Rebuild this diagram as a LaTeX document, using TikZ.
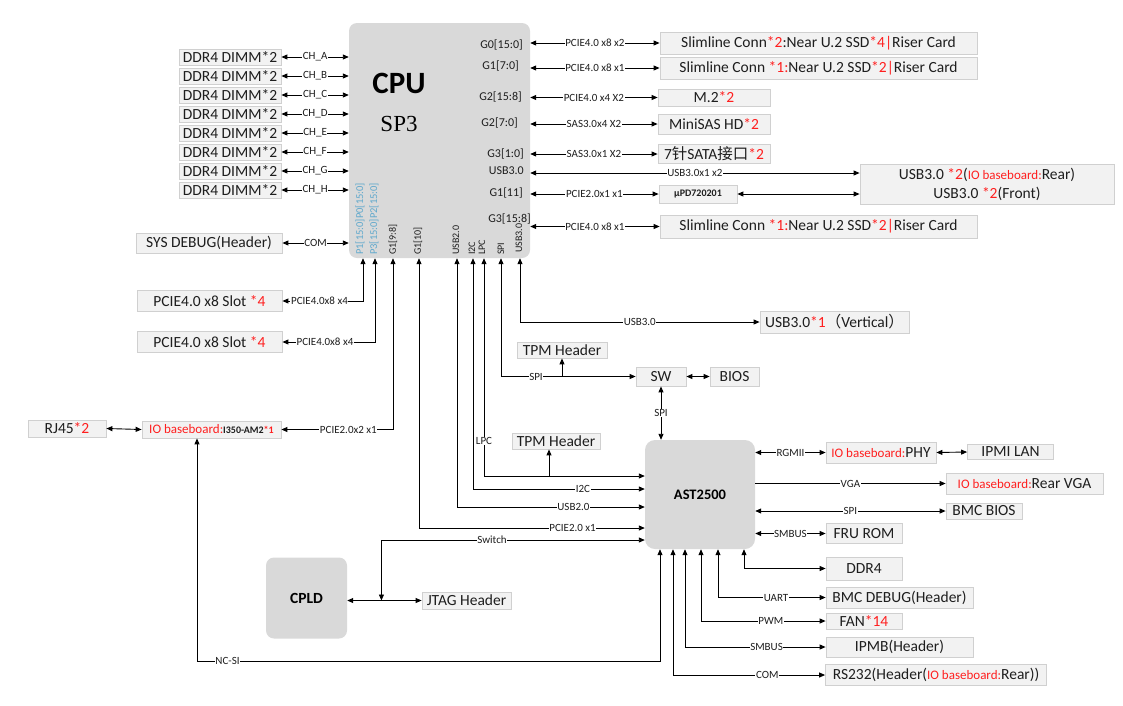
\documentclass[tikz,border=0pt]{standalone}
\usepackage{fontspec}
\setmainfont{Carlito}
\newfontfamily\cjkfont{Noto Sans CJK SC}
\newfontfamily\spfont{Liberation Serif}
\usetikzlibrary{arrows.meta,calc}
\definecolor{boxfill}{HTML}{F2F2F2}
\definecolor{boxline}{HTML}{D0D0D0}
\definecolor{chipfill}{HTML}{D9D9D9}
\definecolor{myred}{HTML}{FF1F1F}
\definecolor{myblue}{HTML}{5FA8CC}
\definecolor{txt}{HTML}{1E1E1E}
\newcommand{\rr}[1]{\textcolor{myred}{#1}}
\newcommand{\iobt}{{\fontsize{13}{14}\selectfont\textcolor{myred}{IO baseboard:}}}
\begin{document}
\begin{tikzpicture}[x=1pt,y=-1pt, >={Triangle[length=6pt,width=5pt]},
 box/.style={draw=boxline, fill=boxfill, line width=0.8pt, inner sep=0pt, text=txt, font=\fontsize{15.5}{19}\selectfont},
 chip/.style={fill=chipfill, rounded corners=8pt, inner sep=0pt},
 wire/.style={line width=0.9pt, draw=black},
 lbl/.style={fill=white, inner sep=0.6pt, text=txt, font=\fontsize{11}{11}\selectfont},
 port/.style={inner sep=0pt, anchor=east, text=txt, font=\fontsize{12}{12}\selectfont},
 bport/.style={inner sep=0pt, anchor=west, rotate=90, text=txt, font=\fontsize{10}{11}\selectfont},
]
\useasboundingbox (0,0) rectangle (1123,705);

% ---------- chips ----------
\node[chip, minimum width=181pt, minimum height=235pt] (cpu) at (439.5,140.5) {};
\node[font=\bfseries\fontsize{31}{31}\selectfont, text=black] (cputxt) at (399,83) {CPU};
\node[font=\spfont\fontsize{23}{23}\selectfont, text=black] (sptxt) at (399,124) {SP3};
\node[chip, rounded corners=10pt, minimum width=110pt, minimum height=109pt, font=\bfseries\fontsize{14.5}{15}\selectfont] (ast) at (700,494.5) {AST2500};
\node[chip, minimum width=81pt, minimum height=81pt, font=\bfseries\fontsize{15.5}{16}\selectfont] (cpld) at (306.5,598) {CPLD};

% ---------- CPU port labels ----------
\node[port] (pG0) at (523,45) {G0[15:0]};
\node[port] (pG1a) at (519,66) {G1[7:0]};
\node[port] (pG2a) at (522,97) {G2[15:8]};
\node[port] (pG2b) at (518,123) {G2[7:0]};
\node[port] (pG3a) at (524,154) {G3[1:0]};
\node[port] (pU3) at (524,171) {USB3.0};
\node[port] (pG11) at (523,193) {G1[11]};
\node[port] (pG3b) at (531,219) {G3[15:8]};

\node[bport, text=myblue, font=\fontsize{10.5}{11}\selectfont] (lP1) at (360,255) {P1[15:0]P0[15:0]};
\node[bport, text=myblue, font=\fontsize{10.5}{11}\selectfont] (lP3) at (374,255) {P3[15:0]P2[15:0]};
\node[bport] (lG98) at (393,255) {G1[9:8]};
\node[bport] (lG10) at (418,255) {G1[10]};
\node[bport] (lU2) at (456,255) {USB2.0};
\node[bport] (lI2C) at (472,255) {I2C};
\node[bport] (lLPC) at (482,255) {LPC};
\node[bport] (lSPI) at (501,255) {SPI};
\node[bport] (lU3) at (519,253) {USB3.0};

\coordinate (bP1) at (cpu.south -| 363,0);
\coordinate (bP3) at (cpu.south -| 375,0);
\coordinate (bG98) at (cpu.south -| 393,0);
\coordinate (bG10) at (cpu.south -| 419,0);
\coordinate (bU2) at (cpu.south -| 457,0);
\coordinate (bI2C) at (cpu.south -| 473,0);
\coordinate (bLPC) at (cpu.south -| 484,0);
\coordinate (bSPI) at (cpu.south -| 501,0);
\coordinate (bU3) at (cpu.south -| 520,0);

% ---------- DDR ----------
\foreach \n/\yy in {A/57,B/76,C/95,D/114,E/133,F/152,G/171,H/190}{
  \node[box, minimum width=102pt, minimum height=16pt] (ddr\n) at (230,\yy) {DDR4 DIMM*2};
  \draw[wire,<->] (ddr\n.east) -- (cpu.west |- ddr\n.east) node[lbl,midway]{CH\_\n};
}

% ---------- left boxes ----------
\node[box, minimum width=146pt, minimum height=20pt] (sysdbg) at (209,243) {SYS DEBUG(Header)};
\node[box, minimum width=145pt, minimum height=21pt] (slot1) at (209.5,301) {PCIE4.0 x8 Slot \rr{*4}};
\node[box, minimum width=145pt, minimum height=21pt] (slot2) at (209.5,342) {PCIE4.0 x8 Slot \rr{*4}};
\node[box, minimum width=139pt, minimum height=17pt] (iob) at (211.5,429.5) {\iobt{\bfseries\fontsize{10}{11}\selectfont I350-AM2\rr{*1}}};
\node[box, minimum width=78pt, minimum height=17pt] (rj45) at (67,428.5) {RJ45\rr{*2}};

% ---------- right top boxes ----------
\node[box, minimum width=317pt, minimum height=22pt] (sl1) at (818.5,43) {Slimline Conn\rr{*2}:Near U.2 SSD\rr{*4|}Riser Card};
\node[box, minimum width=317pt, minimum height=22pt] (sl2) at (818.5,68) {Slimline Conn \rr{*1:}Near U.2 SSD\rr{*2|}Riser Card};
\node[box, minimum width=112pt, minimum height=17pt] (m2) at (714,97.5) {M.2\rr{*2}};
\node[box, minimum width=112pt, minimum height=20pt] (minisas) at (714,124) {MiniSAS HD\rr{*2}};
\node[box, minimum width=112pt, minimum height=19pt] (sata) at (714,154) {7{\cjkfont 针}SATA{\cjkfont 接口}\rr{*2}};
\node[box, minimum width=254pt, minimum height=40pt, align=center] (usbfr) at (987,184) {USB3.0 \rr{*2}(\iobt Rear)\\USB3.0 \rr{*2}(Front)};
\node[box, minimum width=78pt, minimum height=18pt, font=\bfseries\fontsize{10}{11}\selectfont] (upd) at (698,194) {µPD720201};
\node[box, minimum width=317pt, minimum height=23pt] (sl3) at (818.5,226.5) {Slimline Conn \rr{*1:}Near U.2 SSD\rr{*2|}Riser Card};

% ---------- middle boxes ----------
\node[box, minimum width=149pt, minimum height=22pt] (usbv) at (834.5,322) {USB3.0\rr{*1}{\cjkfont （}Vertical{\cjkfont ）}};
\node[box, minimum width=90pt, minimum height=16pt] (tpm1) at (562,350) {TPM Header};
\node[box, minimum width=50pt, minimum height=19pt] (sw) at (661,376.5) {SW};
\node[box, minimum width=49pt, minimum height=19pt] (bios) at (734.5,376.5) {BIOS};
\node[box, minimum width=88pt, minimum height=16pt] (tpm2) at (556,441) {TPM Header};
\node[box, minimum width=89pt, minimum height=17pt] (jtag) at (466.5,600.5) {JTAG Header};

% ---------- AST right boxes ----------
\node[box, minimum width=110pt, minimum height=21pt] (phy) at (881,452.5) {\iobt PHY};
\node[box, minimum width=86pt, minimum height=15pt] (ipmi) at (1010.5,452) {IPMI LAN};
\node[box, minimum width=157pt, minimum height=21pt] (vga) at (1024.5,483.5) {\iobt Rear VGA};
\node[box, minimum width=76pt, minimum height=16pt] (bmcbios) at (984,511) {BMC BIOS};
\node[box, minimum width=76pt, minimum height=20pt] (fru) at (864,533.5) {FRU ROM};
\node[box, minimum width=76pt, minimum height=23pt] (ddr4b) at (864,568.5) {DDR4};
\node[box, minimum width=147pt, minimum height=21pt] (bmcdbg) at (899.5,597.5) {BMC DEBUG(Header)};
\node[box, minimum width=76pt, minimum height=16pt] (fan) at (864,621) {FAN\rr{*14}};
\node[box, minimum width=147pt, minimum height=20pt] (ipmb) at (899.5,647) {IPMB(Header)};
\node[box, minimum width=221pt, minimum height=21pt] (rs232) at (936,675) {RS232(Header(\iobt Rear))};

% ---------- CPU right connectors ----------
\draw[wire,<->] (cpu.east |- sl1.west) -- (sl1.west) node[lbl,midway]{PCIE4.0 x8 x2};
\draw[wire,<->] (cpu.east |- sl2.west) -- (sl2.west) node[lbl,midway]{PCIE4.0 x8 x1};
\draw[wire,<->] (cpu.east |- m2.west) -- (m2.west) node[lbl,midway]{PCIE4.0 x4 X2};
\draw[wire,<->] (cpu.east |- minisas.west) -- (minisas.west) node[lbl,midway]{SAS3.0x4 X2};
\draw[wire,<->] (cpu.east |- sata.west) -- (sata.west) node[lbl,midway]{SAS3.0x1 X2};
\coordinate (usbL) at (usbfr.west |- 0,173);
\draw[wire,<->] (cpu.east |- usbL) -- (usbL) node[lbl,midway]{USB3.0x1 x2};
\draw[wire,<->] (cpu.east |- upd.west) -- (upd.west) node[lbl,midway]{PCIE2.0x1 x1};
\draw[wire,<->] (upd.east) -- (usbfr.west |- upd.east);
\draw[wire,<->] (cpu.east |- sl3.west) -- (sl3.west) node[lbl,midway]{PCIE4.0 x8 x1};

% ---------- CPU left / bottom connectors ----------
\draw[wire,<->] (sysdbg.east) -- (cpu.west |- sysdbg.east) node[lbl,midway]{COM};
\draw[wire,<->] (slot1.east) -| (bP1) node[lbl,pos=0.23]{PCIE4.0x8 x4};
\draw[wire,<->] (slot2.east) -| (bP3) node[lbl,pos=0.23]{PCIE4.0x8 x4};
\draw[wire,<->] (iob.east) -| (bG98) node[lbl,pos=0.3]{PCIE2.0x2 x1};
\draw[wire,<->] (rj45.east) -- (iob.west);

% AST side coordinates
\coordinate (aLPC) at (ast.west |- 0,476);
\coordinate (aI2C) at (ast.west |- 0,489);
\coordinate (aUSB2) at (ast.west |- 0,507);
\coordinate (aPCIE) at (ast.west |- 0,528);
\coordinate (aSW) at (ast.west |- 0,540);
\coordinate (aB1) at (ast.south -| 660,0);
\coordinate (aB2) at (ast.south -| 673,0);
\coordinate (aB3) at (ast.south -| 685,0);
\coordinate (aB4) at (ast.south -| 701,0);
\coordinate (aB5) at (ast.south -| 718,0);
\coordinate (aB6) at (ast.south -| 744,0);
\coordinate (iobS) at (iob.south -| 197,0);

\draw[wire,<->] (bG10) |- (aPCIE) node[lbl,pos=0.84]{PCIE2.0 x1};
\draw[wire,<->] (bU2) |- (aUSB2) node[lbl,pos=0.81]{USB2.0};
\draw[wire,<->] (bI2C) |- (aI2C) node[lbl,pos=0.82]{I2C};
\draw[wire,<->] (bLPC) |- (aLPC) node[lbl,pos=0.42,inner sep=0.3pt]{LPC};
\draw[wire,->] (aLPC -| 549,0) -- (tpm2.south -| 549,0);
\draw[wire,<->] (bSPI) |- (sw.west) node[lbl,pos=0.63]{SPI};
\draw[wire,->] (tpm1.south |- sw.west) -- (tpm1.south);
\draw[wire,<->] (sw.east) -- (bios.west);
\draw[wire,<->] (sw.south) -- (sw.south |- ast.north) node[lbl,midway]{SPI};
\draw[wire,<->] (bU3) |- (usbv.west) node[lbl,pos=0.75]{USB3.0};

% NC-SI
\draw[wire,<->] (iobS) |- (aB1 |- 0,661) node[lbl,pos=0.533]{NC-SI} -- (aB1);

% CPLD / JTAG / Switch
\coordinate (cj) at (cpld.east |- jtag.west);
\coordinate (sj) at ($(cj)!0.46!(jtag.west)$);
\draw[wire,<->] (cj) -- (jtag.west);
\draw[wire,<->] (aSW) -| (sj) node[lbl,pos=0.29]{Switch};

% ---------- AST right connectors ----------
\draw[wire,<->] (ast.east |- phy.west) -- (phy.west) node[lbl,midway]{RGMII};
\draw[wire,<->] (phy.east) -- (ipmi.west);
\draw[wire,->] (ast.east |- vga.west) -- (vga.west) node[lbl,midway]{VGA};
\draw[wire,<->] (ast.east |- bmcbios.west) -- (bmcbios.west) node[lbl,midway]{SPI};
\draw[wire,<->] (ast.east |- fru.west) -- (fru.west) node[lbl,midway]{SMBUS};
\draw[wire,<->] (aB6) |- (ddr4b.west);
\draw[wire,<->] (aB5) |- (bmcdbg.west) node[lbl,pos=0.77]{UART};
\draw[wire,<->] (aB4) |- (fan.west) node[lbl,pos=0.78]{PWM};
\draw[wire,<->] (aB3) |- (ipmb.west) node[lbl,pos=0.79]{SMBUS};
\draw[wire,<->] (aB2) |- (rs232.west) node[lbl,pos=0.81]{COM};
\end{tikzpicture}
\end{document}
